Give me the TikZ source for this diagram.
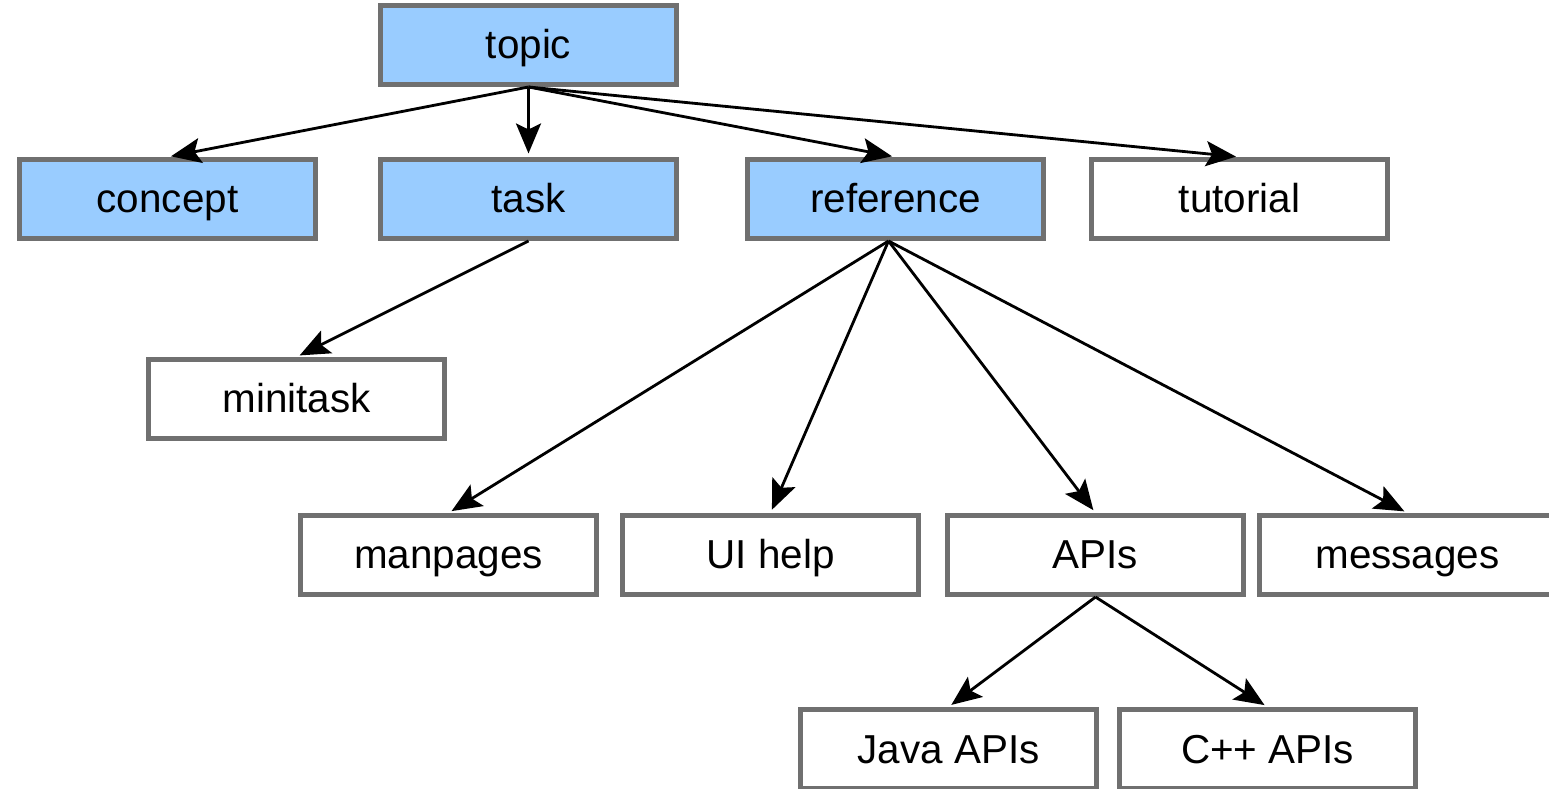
\documentclass[tikz,border=0pt]{standalone}
\usepackage{fontspec}
\setmainfont{Liberation Sans}
\usepackage{xcolor}
\usetikzlibrary{arrows.meta, positioning}

\definecolor{topicblue}{HTML}{99CCFF}
\definecolor{boxedge}{HTML}{707070}

\begin{document}
\begin{tikzpicture}[
    box/.style={draw=boxedge, line width=0.1cm, minimum width=5.92cm, minimum height=1.58cm,
        inner sep=0pt, text height=0.66cm, text depth=0.1cm, font=\fontsize{23}{27}\selectfont},
    bluebox/.style={box, fill=topicblue},
    plainbox/.style={box, fill=white},
    link/.style={-{Stealth[length=0.6cm, width=0.5cm, inset=0.12cm]}, line width=1.6pt, shorten >=2pt}
]
    \useasboundingbox (0,0) rectangle (30.98,15.76);

    % Top level (information types)
    \node[bluebox] (topic) at (10.57, 14.86) {topic};
    \node[bluebox] (concept) at (3.35, 11.78) {concept};
    \node[bluebox] (task) at (10.57, 11.78) {task};
    \node[bluebox] (reference) at (17.91, 11.78) {reference};
    \node[plainbox] (tutorial) at (24.79, 11.78) {tutorial};

    % Specialized types
    \node[plainbox] (minitask) at (5.93, 7.78) {minitask};
    \node[plainbox] (manpages) at (8.97, 4.66) {manpages};
    \node[plainbox] (uihelp) at (15.41, 4.66) {UI help};
    \node[plainbox] (apis) at (21.91, 4.66) {APIs};
    \node[plainbox] (messages) at (28.15, 4.66) {messages};
    \node[plainbox] (java) at (18.97, 0.78) {Java APIs};
    \node[plainbox] (cpp) at (25.35, 0.78) {C++ APIs};

    % Arrows
    \foreach \child in {concept, task, reference, tutorial} {
        \draw[link] (topic.south) -- (\child.north);
    }
    \draw[link] (task.south) -- (minitask.north);
    \foreach \child in {manpages, uihelp, apis, messages} {
        \draw[link] ([xshift=-0.14cm]reference.south) -- (\child.north);
    }
    \draw[link] (apis.south) -- (java.north);
    \draw[link] (apis.south) -- (cpp.north);
\end{tikzpicture}
\end{document}
